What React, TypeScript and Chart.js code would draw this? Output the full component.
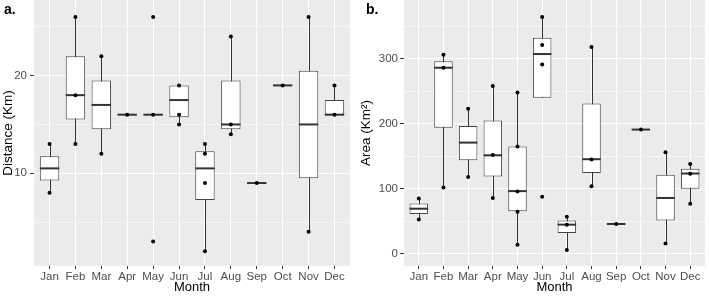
import React, { useEffect, useRef } from 'react';
import { Chart, registerables } from 'chart.js';

Chart.register(...registerables);

const FONT = '"Liberation Sans", Arial, Helvetica, sans-serif';

const months = ['Jan', 'Feb', 'Mar', 'Apr', 'May', 'Jun', 'Jul', 'Aug', 'Sep', 'Oct', 'Nov', 'Dec'];

// Panel a: Distance (Km)
const distLo = [8, 13, 12, 16, 16, 15, 2, 14, 9, 19, 4, 16];
const distQ1 = [9.25, 15.5, 14.5, 16, 16, 15.75, 7.25, 14.5, 9, 19, 9.5, 16];
const distMed = [10.5, 18, 17, 16, 16, 17.5, 10.5, 15, 9, 19, 15, 16];
const distQ3 = [11.75, 22, 19.5, 16, 16, 19, 12.25, 19.5, 9, 19, 20.5, 17.5];
const distHi = [13, 26, 22, 16, 16, 19, 13, 24, 9, 19, 26, 19];
const distPointMonth = [0, 0, 1, 1, 1, 2, 2, 3, 4, 4, 4, 5, 5, 5, 6, 6, 6, 6, 7, 7, 7, 8, 9, 10, 10, 11, 11];
const distPointValue = [13, 8, 26, 18, 13, 22, 12, 16, 26, 16, 3, 19, 16, 15, 13, 12, 9, 2, 24, 15, 14, 9, 19, 26, 4, 19, 16];
const distMajorTicks = [10, 20];
const distMinorTicks = [5, 15, 25];

// Panel b: Area (Km²)
const areaLo = [53, 102, 118, 86, 14, 240, 6, 104, 46, 191, 16, 77];
const areaQ1 = [61.5, 194, 144, 119, 65.5, 240, 32, 124.5, 46, 191, 51.5, 100];
const areaMed = [69.5, 286, 171, 151.5, 96.5, 307, 45, 145.5, 46, 191, 86, 123.5];
const areaQ3 = [77.5, 296, 196.5, 205, 165, 332, 51.5, 231, 46, 191, 121.5, 131];
const areaHi = [85, 306, 223, 258, 248, 364, 57, 318, 46, 191, 156, 138];
const areaPointMonth = [0, 0, 1, 1, 1, 2, 2, 3, 3, 3, 4, 4, 4, 4, 4, 5, 5, 5, 5, 6, 6, 6, 7, 7, 7, 8, 9, 10, 10, 11, 11, 11];
const areaPointValue = [85, 53, 306, 286, 102, 223, 118, 258, 152, 86, 248, 165, 96, 65, 14, 364, 321, 291, 88, 57, 45, 6, 318, 145, 104, 46, 191, 156, 16, 138, 123, 77];
const areaMajorTicks = [0, 100, 200, 300];
const areaMinorTicks = [50, 150, 250, 350];

type Panel = {
  lo: number[]; q1: number[]; med: number[]; q3: number[]; hi: number[];
  pm: number[]; pv: number[];
  major: number[]; minor: number[];
  min: number; max: number;
  yTitle: string; yWidth: number; titlePad: number; padRight: number; tickPad: number;
};

function makeChart(canvas: HTMLCanvasElement, p: Panel) {
  const boxPlugin = {
    id: 'boxplotParts',
    beforeDraw(chart: any) {
      const { ctx, chartArea: a } = chart;
      ctx.save();
      ctx.fillStyle = '#EBEBEB';
      ctx.fillRect(a.left, a.top, a.right - a.left, a.bottom - a.top);
      ctx.restore();
    },
    beforeDatasetsDraw(chart: any) {
      const { ctx } = chart;
      const xs = chart.scales.x;
      const ys = chart.scales.y;
      ctx.save();
      ctx.strokeStyle = '#333333';
      ctx.lineWidth = 1;
      p.lo.forEach((lo, i) => {
        if (lo === p.hi[i]) return;
        const px = Math.round(xs.getPixelForValue(i)) + 0.5;
        ctx.beginPath();
        ctx.moveTo(px, ys.getPixelForValue(lo));
        ctx.lineTo(px, ys.getPixelForValue(p.hi[i]));
        ctx.stroke();
      });
      ctx.restore();
    },
    afterDatasetDraw(chart: any, args: any) {
      if (args.index !== 0) return;
      const { ctx } = chart;
      const ys = chart.scales.y;
      const meta = chart.getDatasetMeta(0);
      ctx.save();
      ctx.strokeStyle = '#333333';
      ctx.lineWidth = 2;
      meta.data.forEach((el: any, i: number) => {
        const { x, width } = el.getProps(['x', 'width'], true);
        const py = ys.getPixelForValue(p.med[i]);
        ctx.beginPath();
        ctx.moveTo(x - width / 2, py);
        ctx.lineTo(x + width / 2, py);
        ctx.stroke();
      });
      ctx.restore();
    },
  };

  const allTicks = [...p.major, ...p.minor].sort((a, b) => a - b);

  return new Chart(canvas, {
    type: 'bar',
    data: {
      datasets: [
        {
          type: 'bar',
          data: months.map((_, i) => ({ x: i, y: [p.q1[i], p.q3[i]] })) as any,
          backgroundColor: '#FFFFFF',
          borderColor: '#444444',
          borderWidth: 1,
          borderSkipped: false,
          categoryPercentage: 1,
          barPercentage: 0.75,
          order: 1,
        } as any,
        {
          type: 'scatter',
          data: p.pm.map((m, k) => ({ x: m, y: p.pv[k] })),
          backgroundColor: '#000000',
          borderWidth: 0,
          pointRadius: 2,
          pointHoverRadius: 2,
          order: 0,
        } as any,
      ],
    },
    options: {
      responsive: false,
      animation: false,
      events: [],
      layout: { autoPadding: false, padding: { left: 0, right: p.padRight, top: 0, bottom: 0 } },
      plugins: { legend: { display: false }, tooltip: { enabled: false } },
      scales: {
        x: {
          type: 'linear',
          min: -0.6,
          max: 11.6,
          offset: false,
          bounds: 'data',
          afterBuildTicks: (s: any) => {
            s.ticks = months.map((_, i) => ({ value: i }));
          },
          afterFit: (s: any) => {
            s.height = 30;
            s.paddingLeft = 0;
            s.paddingRight = 0;
          },
          ticks: {
            callback: (v: any) => months[v as number] ?? '',
            color: '#4D4D4D',
            font: { size: 11.5, family: FONT },
            padding: 1,
            maxRotation: 0,
            autoSkip: false,
          },
          grid: { color: '#FFFFFF', lineWidth: 1, tickColor: '#333333', tickLength: 3, offset: false },
          border: { display: false },
          title: {
            display: true,
            text: 'Month',
            color: '#000000',
            font: { size: 13, family: FONT },
            padding: { top: 0, bottom: 1 },
          },
        } as any,
        y: {
          type: 'linear',
          min: p.min,
          max: p.max,
          bounds: 'data',
          afterBuildTicks: (s: any) => {
            s.ticks = allTicks.map((v) => ({ value: v }));
          },
          afterFit: (s: any) => {
            s.width = p.yWidth;
            s.paddingTop = 0;
            s.paddingBottom = 0;
          },
          ticks: {
            callback: (v: any) => (p.major.includes(v as number) ? String(v) : ''),
            color: '#4D4D4D',
            font: { size: 11.5, family: FONT },
            padding: p.tickPad,
            autoSkip: false,
          },
          grid: {
            color: (c: any) => (p.major.includes(c.tick?.value) ? '#FFFFFF' : '#F6F6F6'),
            lineWidth: 1,
            tickColor: (c: any) => (p.major.includes(c.tick?.value) ? '#333333' : 'rgba(0,0,0,0)'),
            tickLength: 4,
          },
          border: { display: false },
          title: {
            display: true,
            text: p.yTitle,
            color: '#000000',
            font: { size: 13.5, family: FONT },
            padding: { top: p.titlePad, bottom: 0 },
          },
        } as any,
      },
    },
    plugins: [boxPlugin],
  } as any);
}

const panelA: Panel = {
  lo: distLo, q1: distQ1, med: distMed, q3: distQ3, hi: distHi,
  pm: distPointMonth, pv: distPointValue,
  major: distMajorTicks, minor: distMinorTicks,
  min: 0.5, max: 27.75,
  yTitle: 'Distance (Km)', yWidth: 34, titlePad: 0, padRight: 5, tickPad: 3,
};

const panelB: Panel = {
  lo: areaLo, q1: areaQ1, med: areaMed, q3: areaQ3, hi: areaHi,
  pm: areaPointMonth, pv: areaPointValue,
  major: areaMajorTicks, minor: areaMinorTicks,
  min: -18.5, max: 390,
  yTitle: 'Area (Km²)', yWidth: 49, titlePad: 3, padRight: 4, tickPad: 2,
};

function PanelChart({ panel, width }: { panel: Panel; width: number }) {
  const ref = useRef<HTMLCanvasElement | null>(null);
  useEffect(() => {
    if (!ref.current) return;
    const chart = makeChart(ref.current, panel);
    return () => chart.destroy();
  }, [panel]);
  return (
    <canvas
      ref={ref}
      width={width}
      height={296}
      style={{ display: 'block', width: `${width}px`, height: '296px' }}
    />
  );
}

export default function App() {
  const labelStyle: React.CSSProperties = {
    position: 'absolute',
    top: 2,
    fontFamily: FONT,
    fontWeight: 'bold',
    fontSize: 14,
    lineHeight: '15px',
    color: '#000',
  };
  return (
    <div
      style={{
        position: 'absolute',
        left: 0,
        top: 0,
        width: 709,
        height: 296,
        background: '#FFFFFF',
        overflow: 'hidden',
      }}
    >
      <div style={{ position: 'absolute', left: 0, top: 0 }}>
        <PanelChart panel={panelA} width={355} />
      </div>
      <div style={{ position: 'absolute', left: 355, top: 0 }}>
        <PanelChart panel={panelB} width={354} />
      </div>
      <div style={{ ...labelStyle, left: 4 }}>a.</div>
      <div style={{ ...labelStyle, left: 366 }}>b.</div>
    </div>
  );
}
